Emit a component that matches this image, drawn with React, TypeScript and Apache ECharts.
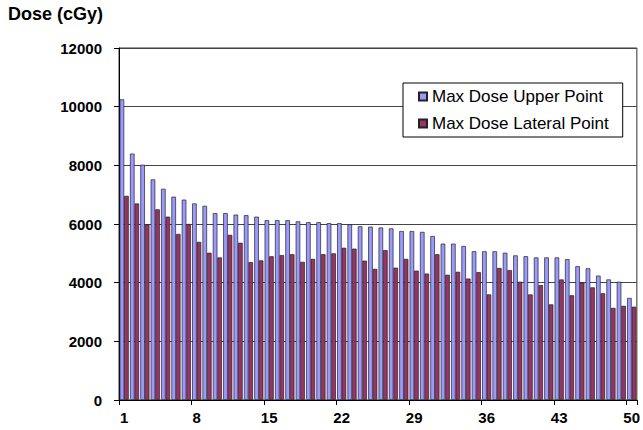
import React, { useEffect, useRef } from "react";
import * as echarts from "echarts";

const categories: string[] = Array.from({ length: 50 }, (_, i) => String(i + 1));

const upperPoint: number[] = [
  10250, 8400, 8020, 7520, 7200, 6930, 6830, 6700, 6620, 6370,
  6370, 6320, 6300, 6250, 6130, 6130, 6130, 6090, 6060, 6060,
  6030, 6030, 5990, 5920, 5910, 5880, 5850, 5760, 5760, 5730,
  5590, 5330, 5330, 5250, 5070, 5070, 5070, 5020, 4930, 4900,
  4860, 4860, 4860, 4800, 4560, 4490, 4240, 4110, 4030, 3480,
];

const lateralPoint: number[] = [
  6960, 6700, 5990, 6500, 6250, 5660, 6000, 5390, 5020, 4860,
  5630, 5360, 4700, 4760, 4900, 4940, 4970, 4710, 4810, 4970,
  5000, 5190, 5160, 4750, 4470, 5110, 4510, 4810, 4410, 4310,
  4970, 4270, 4370, 4140, 4360, 3600, 4500, 4430, 4030, 3600,
  3920, 3260, 4110, 3570, 4000, 3840, 3640, 3140, 3210, 3180,
];

const seriesNames: string[] = ["Max Dose Upper Point", "Max Dose Lateral Point"];
const yTitle = "Dose (cGy)";

const FONT = "'Liberation Sans', Arial, sans-serif";

export default function App() {
  const ref = useRef<HTMLDivElement>(null);
  useEffect(() => {
    if (!ref.current) return;
    const chart = echarts.init(ref.current, undefined, { renderer: "svg" });
    chart.setOption({
      animation: false,
      backgroundColor: "#ffffff",
      title: {
        text: yTitle,
        left: 3,
        top: 0,
        textStyle: { fontFamily: FONT, fontSize: 18, fontWeight: "bold", color: "#000" },
      },
      legend: {
        data: seriesNames,
        orient: "vertical",
        left: 403,
        top: 83,
        padding: [5, 14, 5, 15],
        itemGap: 10,
        itemWidth: 8,
        itemHeight: 8,
        backgroundColor: "#ffffff",
        borderColor: "#000",
        borderWidth: 1,
        icon: "rect",
        textStyle: { fontFamily: FONT, fontSize: 17, color: "#000" },
      },
      grid: {
        left: 119,
        right: 5,
        top: 48,
        bottom: 30,
        show: true,
        borderColor: "#333",
        borderWidth: 1,
      },
      xAxis: {
        type: "category",
        data: categories,
        boundaryGap: true,
        axisLine: { lineStyle: { color: "#000", width: 1 } },
        axisTick: { show: true, interval: 6, length: 5, lineStyle: { color: "#000" } },
        axisLabel: {
          interval: 6,
          margin: 10,
          fontFamily: FONT,
          fontSize: 15,
          fontWeight: "bold",
          color: "#000",
        },
      },
      yAxis: {
        type: "value",
        min: 0,
        max: 12000,
        interval: 2000,
        axisLine: { show: true, lineStyle: { color: "#000", width: 1 } },
        axisTick: { show: true, length: 5, lineStyle: { color: "#000" } },
        axisLabel: {
          margin: 17,
          formatter: (v: number) => String(v),
          fontFamily: FONT,
          fontSize: 15,
          fontWeight: "bold",
          color: "#000",
        },
        splitLine: { show: true, lineStyle: { color: "#444", width: 1 } },
      },
      series: [
        {
          name: seriesNames[0],
          type: "bar",
          data: upperPoint,
          barGap: "0%",
          barCategoryGap: "12%",
          itemStyle: { color: "#9999FF", borderColor: "#222", borderWidth: 0.7 },
        },
        {
          name: seriesNames[1],
          type: "bar",
          data: lateralPoint,
          barGap: "0%",
          barCategoryGap: "12%",
          itemStyle: { color: "#993366", borderColor: "#222", borderWidth: 0.7 },
        },
      ],
    });
    return () => chart.dispose();
  }, []);
  return (
    <div
      ref={ref}
      style={{ position: "fixed", left: 0, top: 0, width: 643, height: 430 }}
    />
  );
}
